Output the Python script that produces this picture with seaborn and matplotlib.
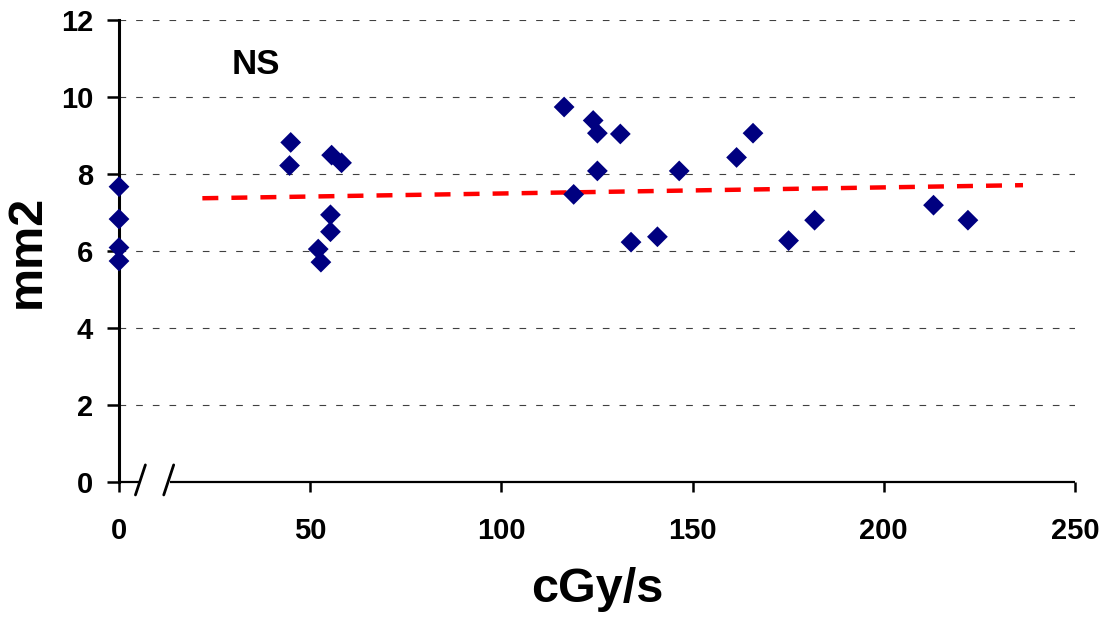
import matplotlib
matplotlib.use("Agg")
import matplotlib.pyplot as plt
import seaborn as sns
import pandas as pd

# Dose rate (cGy/s) and measured area (mm2)
dose_rate = [0, 0, 0, 0,
             44.9, 44.6, 55.6, 58.2, 55.3, 55.3, 52.1, 52.8,
             116.4, 124.0, 125.1, 131.1, 161.5, 165.8, 125.1, 146.5,
             118.9, 133.9, 140.8, 175.1, 181.9, 213.0, 222.0]
area_mm2 = [7.67, 6.83, 6.09, 5.74,
            8.82, 8.22, 8.49, 8.29, 6.94, 6.50, 6.05, 5.71,
            9.74, 9.39, 9.06, 9.04, 8.43, 9.06, 8.08, 8.08,
            7.47, 6.23, 6.37, 6.27, 6.80, 7.19, 6.80]

# Linear trend line end points
trend_x = [21.8, 236.4]
trend_y = [7.37, 7.71]

x_ticks = [0, 50, 100, 150, 200, 250]
y_ticks = [0, 2, 4, 6, 8, 10, 12]
annotation = "NS"

df = pd.DataFrame({"dose": dose_rate, "area": area_mm2})

sns.set_style("white")
plt.rcParams["font.family"] = ["Liberation Sans", "DejaVu Sans"]
plt.rcParams["font.weight"] = "bold"
plt.rcParams["text.color"] = "black"
plt.rcParams["axes.labelcolor"] = "black"
plt.rcParams["xtick.color"] = "black"
plt.rcParams["ytick.color"] = "black"

W, H = 1109, 621
fig = plt.figure(figsize=(W / 100, H / 100), dpi=100)
ax = fig.add_axes([119 / W, (H - 482) / H, (1075 - 119) / W, (482 - 20) / H])

ax.set_xlim(0, 250)
ax.set_ylim(0, 12)

# horizontal dashed grid (skip the baseline)
grid_lw = 0.8
for yv in y_ticks[1:]:
    ax.axhline(yv, color="#404040", lw=grid_lw,
               linestyle=(0, (4.8 / grid_lw, 7.2 / grid_lw)), zorder=0)

# trend line
red_lw = 3.2
ax.plot(trend_x, trend_y, color="#ff0000", lw=red_lw,
        linestyle=(0, (11.5 / red_lw, 9.4 / red_lw)), zorder=2)

sns.scatterplot(data=df, x="dose", y="area", marker="D", s=112,
                color="#000080", edgecolor="none", ax=ax, zorder=3,
                clip_on=False, legend=False)

# spines: left solid, bottom drawn by hand with a break near the origin
for s in ("top", "right", "bottom"):
    ax.spines[s].set_visible(False)
ax.spines["left"].set_linewidth(2.2)
ax.spines["left"].set_color("black")

break_lo, break_hi = 5.5, 13.3
trans = ax.get_xaxis_transform()
ax.plot([0, break_lo], [0, 0], color="black", lw=1.6, transform=trans,
        clip_on=False, solid_capstyle="butt", zorder=4)
ax.plot([break_hi, 250], [0, 0], color="black", lw=1.6, transform=trans,
        clip_on=False, solid_capstyle="butt", zorder=4)
for bx in (break_lo, break_hi - 0.4):
    ax.plot([bx - 1.2, bx + 1.4], [-0.028, 0.037], color="black", lw=2.0,
            transform=trans, clip_on=False, zorder=4)

ax.set_xticks(x_ticks)
ax.set_yticks(y_ticks)
ax.set_xticklabels([str(v) for v in x_ticks])
ax.set_yticklabels([str(v) for v in y_ticks])
ax.tick_params(axis="x", direction="out", length=7.2, width=1.8,
               pad=18, labelsize=21, bottom=True)
ax.tick_params(axis="y", direction="out", length=8.6, width=1.8,
               pad=10, labelsize=21, left=True)
for lab in ax.get_xticklabels() + ax.get_yticklabels():
    lab.set_fontweight("bold")

ax.set_xlabel("cGy/s", fontsize=35, fontweight="bold", labelpad=16)
ax.set_ylabel("mm2", fontsize=35, fontweight="bold", labelpad=8)

ax.text(29.5, 10.6, annotation, fontsize=25, fontweight="bold",
        va="baseline", ha="left")

fig.savefig("out.png", dpi=100)
